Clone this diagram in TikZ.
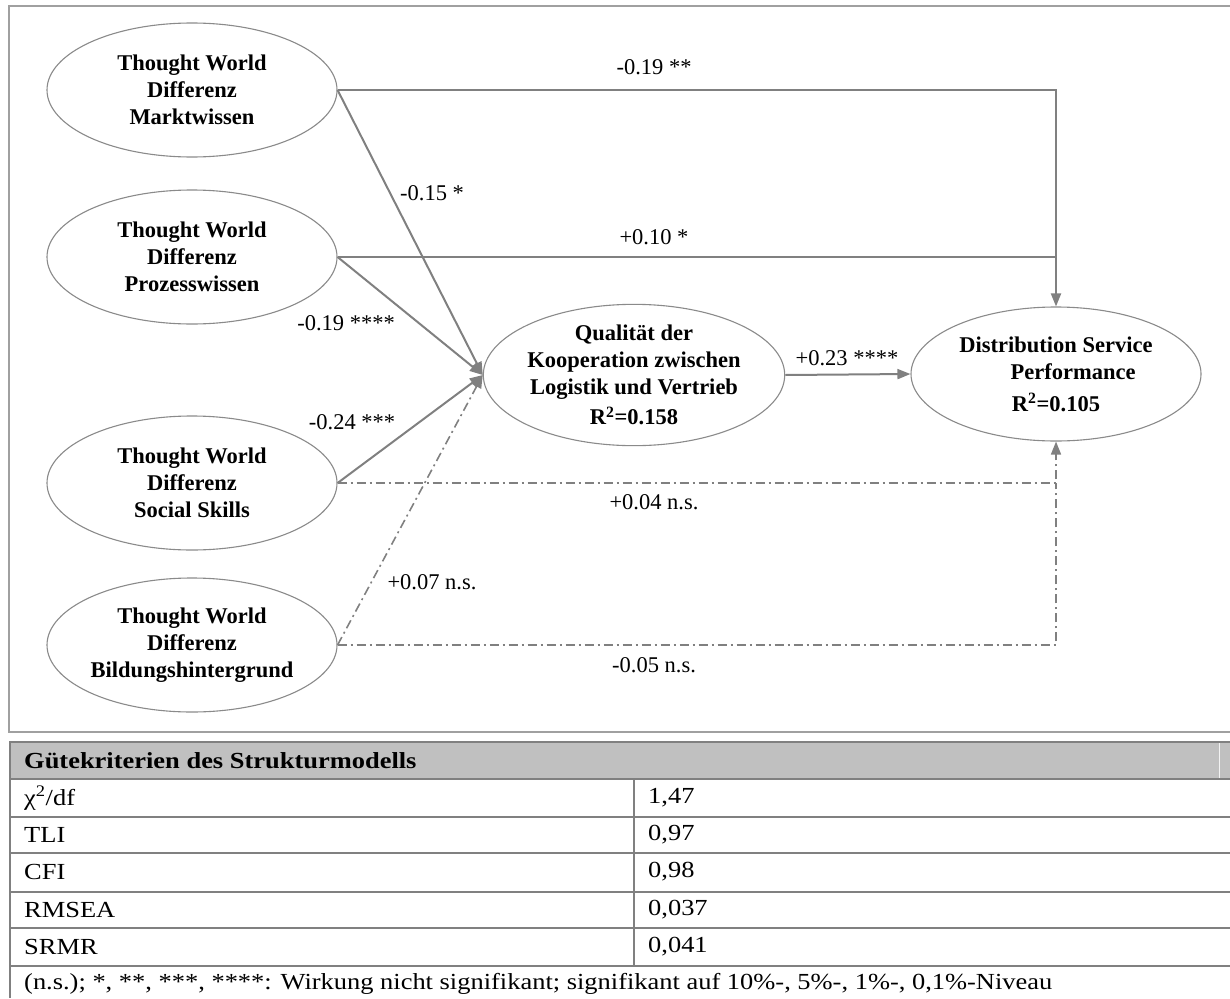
\documentclass[tikz,border=0pt]{standalone}
\usepackage{fontspec}
\setmainfont{Liberation Serif}
\newfontfamily\tabfont[FakeStretch=1.15]{Liberation Serif}
\usetikzlibrary{shapes.geometric,arrows.meta}
\definecolor{linec}{HTML}{808080}
\definecolor{ellc}{HTML}{8A8A8A}
\definecolor{framec}{HTML}{A0A0A0}
\definecolor{headc}{HTML}{C0C0C0}
\begin{document}
\begin{tikzpicture}[x=1pt,y=-1pt,
  lat/.style={ellipse, draw=ellc, line width=1.1pt, minimum width=290pt, minimum height=134pt,
    inner sep=0pt, align=center, font=\fontsize{22.5}{27}\selectfont\bfseries},
  sig/.style={draw=linec, line width=2pt, -{Triangle[length=13pt,width=10pt]}},
  sigline/.style={draw=linec, line width=2pt},
  ns/.style={draw=linec, line width=1.6pt, dash pattern=on 9pt off 4pt on 2pt off 4pt, -{Triangle[length=13pt,width=10pt]}},
  nsline/.style={draw=linec, line width=1.6pt, dash pattern=on 9pt off 4pt on 2pt off 4pt},
  lab/.style={font=\fontsize{22.5}{27}\selectfont, inner sep=0pt},
  tab/.style={font=\tabfont\fontsize{23}{27}\selectfont, inner sep=0pt, anchor=west},
  tabhead/.style={font=\tabfont\fontsize{23}{27}\selectfont\bfseries, inner sep=0pt, anchor=west},
  tline/.style={draw=linec, line width=1.8pt},
]
\useasboundingbox (0,0) rectangle (1230,998);
% outer frame
\draw[framec, line width=1.5pt] (1232,6) -- (9,6) -- (9,732) -- (1232,732);

% latent variables
\node[lat] (e1) at (192,90) {Thought World\\Differenz\\Marktwissen};
\node[lat] (e2) at (192,257) {Thought World\\Differenz\\Prozesswissen};
\node[lat] (e3) at (192,483) {Thought World\\Differenz\\Social Skills};
\node[lat] (e4) at (192,645) {Thought World\\Differenz\\Bildungshintergrund};
\node[lat] (q) at (634,375) {Qualität der\\Kooperation zwischen\\Logistik und Vertrieb\\[3pt]R\textsuperscript{2}=0.158};
\node[lat] (dsp) at (1056,374) {Distribution Service\\\hspace*{34pt}Performance\\[5pt]R\textsuperscript{2}=0.105};

\coordinate (jtop) at (dsp.north |- e2.east);
\coordinate (jbot) at (dsp.south |- e3.east);

% direct effects to DSP
\draw[sig] (e1.east) -| (dsp.north);
\draw[sigline] (e2.east) -- (jtop);
\draw[ns] (e3.east) -| (dsp.south);
\draw[nsline] (e4.east) -| (jbot);

% effects on cooperation quality
\draw[sig] (e1.east) -- (q.west);
\draw[sig] (e2.east) -- (q.west);
\draw[sig] (e3.east) -- (q.west);
\draw[ns] (e4.east) -- (q.west);
\draw[sig] (q.east) -- (dsp.west);

% labels
\node[lab] (l1) at (654,67) {-0.19 **};
\node[lab] (l2) at (654,237) {+0.10 *};
\node[lab] (l3) at (432,193) {-0.15 *};
\node[lab] (l4) at (346,323) {-0.19 ****};
\node[lab] (l5) at (352,422) {-0.24 ***};
\node[lab] (l6) at (432,582) {+0.07 n.s.};
\node[lab] (l7) at (654,502) {+0.04 n.s.};
\node[lab] (l8) at (654,665) {-0.05 n.s.};
\node[lab] (l9) at (847,358) {+0.23 ****};

% table
\fill[headc] (10,742) rectangle (1230,779);
\draw[white!80!headc, line width=0.8pt] (1219,743) -- (1219,778);
\draw[tline] (10,742) -- (1230,742);
\foreach \yy in {779,817,853,892,928,966} {\draw[tline] (10,\yy) -- (1230,\yy);}
\draw[tline] (10,741) -- (10,998);
\draw[tline] (634,779) -- (634,966);

\node[tabhead] (th) at (24,761) {Gütekriterien des Strukturmodells};
\node[tab] (r1a) at (24,798) {χ\textsuperscript{2}/df};
\node[tab] (r1b) at (648,798) {1,47};
\node[tab] (r2a) at (24,835) {TLI};
\node[tab] (r2b) at (648,835) {0,97};
\node[tab] (r3a) at (24,872) {CFI};
\node[tab] (r3b) at (648,872) {0,98};
\node[tab] (r4a) at (24,910) {RMSEA};
\node[tab] (r4b) at (648,910) {0,037};
\node[tab] (r5a) at (24,947) {SRMR};
\node[tab] (r5b) at (648,947) {0,041};
\node[tab] (fn) at (24,984) {(n.s.); *, **, ***, ****: Wirkung nicht signifikant; signifikant auf 10\%-, 5\%-, 1\%-, 0,1\%-Niveau};
\end{tikzpicture}
\end{document}
